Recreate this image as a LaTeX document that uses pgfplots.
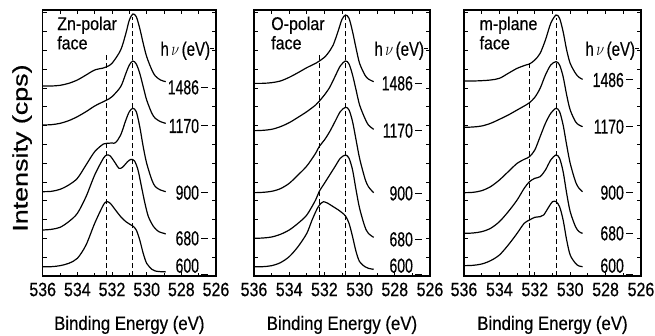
\documentclass[border=0pt]{standalone}
\usepackage{pgfplots}
\pgfplotsset{compat=1.18}
\usepackage{fontspec}
\setmainfont{Liberation Sans}[FakeBold=0.5]
\usepackage{graphicx}
\newcommand{\tl}[1]{\scalebox{1}[1.2]{\fontsize{16}{16}\selectfont #1}}
\newcommand{\rl}[1]{\scalebox{1}[1.45]{\fontsize{14}{14}\selectfont #1}}
\newcommand{\pl}[1]{\scalebox{1}[1.15]{\fontsize{16}{16}\selectfont #1}}
\newcommand{\hv}{\scalebox{1}[1.3]{\fontsize{15}{15}\selectfont h\,$\nu$\,(eV)}}
\newcommand{\dsh}{\hspace{2pt}\rule[6.5pt]{7pt}{1pt}}
\newcommand{\dshl}{\hspace{2pt}\rule[-2pt]{7pt}{1pt}}
\pgfplotsset{
  panel/.style={
    scale only axis, height=266pt,
    x dir=reverse, xmin=526, xmax=536,
    y dir=reverse, ymin=30, ymax=828,
    xtick={526,528,530,532,534,536},
    xticklabels={\tl{526},\tl{528},\tl{530},\tl{532},\tl{534},\tl{536}},
    minor x tick num=1,
    ytick={38.4,94.8,151.2,207.6,264,320.4,376.8,433.2,489.6,546,602.4,658.8,715.2,771.6},
    yticklabels={},
    tick align=inside, major tick length=4pt, minor tick length=3.5pt,
    axis line style={line width=1.3pt},
    every tick/.style={line width=0.9pt, black},
    xticklabel style={inner sep=0pt, yshift=-6.5pt},
    clip=false,
    xlabel={\scalebox{1}[1.15]{\fontsize{16.8}{16.8}\selectfont Binding Energy (eV)}},
    xlabel style={at={(axis description cs:0.5,-0.184)}, anchor=center, inner sep=0pt},
    cycle list={black,line width=1.2pt,no marks,smooth\\},
  },
  dsl/.style={black, line width=0.9pt, dash pattern=on 5pt off 3pt, sharp plot, no marks},
}
\begin{document}
\begin{tikzpicture}
\useasboundingbox (0,0) rectangle (655pt,335pt);
% ---------------- Panel 1 ----------------
\begin{axis}[panel, at={(42.7pt,59pt)}, anchor=south west, width=173.3pt,
  ylabel={\scalebox{1.28}[1]{\fontsize{21}{21}\selectfont Intensity (cps)}},
  ylabel style={at={(axis description cs:-0.119,0.481)}, anchor=center, inner sep=0pt}]
\addplot coordinates {(536,258)(535.5,258)(535,256)(534.5,250)(534,240)(533.5,225)(533,210)(532.5,204)(532.3,200)(532,190)(531.5,150)(531.2,100)(531,60)(530.8,42)(530.6,50)(530.4,85)(530.2,130)(530,170)(529.7,210)(529.5,228)(529.2,240)(528.9,245)};
\addplot coordinates {(536,375)(535.5,374)(535,370)(534.5,362)(534,350)(533.5,335)(533,318)(532.5,305)(532.3,300)(532,290)(531.5,260)(531.2,220)(531,195)(530.8,183)(530.6,192)(530.4,220)(530.2,260)(530,300)(529.7,340)(529.5,355)(529.2,365)(528.9,370)};
\addplot coordinates {(536,575)(535.5,574)(535,568)(534.5,555)(534,535)(533.5,495)(533,455)(532.5,432)(532.3,430)(532,429)(531.8,428)(531.5,405)(531.2,360)(531,335)(530.8,325)(530.6,335)(530.4,380)(530.2,440)(530,490)(529.7,540)(529.5,560)(529.2,570)(528.9,575)};
\addplot coordinates {(536,690)(535.5,688)(535,682)(534.5,665)(534,640)(533.5,590)(533,525)(532.5,475)(532.3,465)(532.1,468)(531.8,490)(531.6,505)(531.4,502)(531.1,485)(530.9,478)(530.7,483)(530.5,510)(530.3,560)(530.1,610)(529.9,650)(529.6,680)(529.3,695)(529,700)(528.9,702)};
\addplot coordinates {(536,800)(535.5,800)(535,797)(534.5,790)(534,775)(533.5,735)(533,670)(532.5,615)(532.3,605)(532.1,610)(531.8,630)(531.5,650)(531.2,665)(531,672)(530.8,678)(530.6,690)(530.4,720)(530.2,760)(530,790)(529.7,808)(529.5,813)(529.2,815)(528.9,815)};
\addplot[dsl] coordinates {(532.3,828)(532.3,160)};
\addplot[dsl] coordinates {(530.8,828)(530.8,50)};
\node[anchor=base west, inner sep=0pt] at (axis cs:535.17,90) {\pl{Zn-polar}};
\node[anchor=base west, inner sep=0pt] at (axis cs:535.17,148) {\pl{face}};
\node[anchor=east, inner sep=0pt] at (axis cs:526.1,152) {\hv\rule[6.5pt]{4pt}{1pt}};
\node[anchor=east, inner sep=0pt] at (axis cs:526.45,262) {\rl{1486}\dsh};
\node[anchor=east, inner sep=0pt] at (axis cs:526.45,378) {\rl{1170}\dsh};
\node[anchor=east, inner sep=0pt] at (axis cs:526.45,578) {\rl{900}\dsh};
\node[anchor=east, inner sep=0pt] at (axis cs:526.45,715) {\rl{680}\dsh};
\node[anchor=base east, inner sep=0pt] at (axis cs:526.45,818) {\rl{600}\dshl};
\end{axis}
% ---------------- Panel 2 ----------------
\begin{axis}[panel, at={(254pt,59pt)}, anchor=south west, width=176pt]
\addplot coordinates {(536,250)(535.5,250)(535,248)(534.5,243)(534,232)(533.5,218)(533,203)(532.5,190)(532.2,180)(532,172)(531.8,160)(531.5,135)(531.2,90)(531,58)(530.8,45)(530.6,55)(530.4,95)(530.2,145)(530,190)(529.7,225)(529.5,237)(529.2,245)};
\addplot coordinates {(536,392)(535.5,391)(535,388)(534.5,380)(534,368)(533.5,352)(533,335)(532.5,315)(532.2,298)(532,285)(531.7,262)(531.4,230)(531.1,198)(530.8,183)(530.6,192)(530.4,225)(530.2,270)(530,315)(529.7,355)(529.5,375)(529.2,388)};
\addplot coordinates {(536,578)(535.5,577)(535,574)(534.5,566)(534,550)(533.5,525)(533,498)(532.5,460)(532.3,440)(532,420)(531.7,395)(531.4,365)(531.1,335)(530.8,322)(530.6,330)(530.4,365)(530.2,420)(530,475)(529.7,535)(529.5,560)(529.2,578)};
\addplot coordinates {(536,715)(535.5,714)(535,711)(534.5,703)(534,690)(533.5,670)(533,645)(532.5,600)(532.3,575)(532,550)(531.7,525)(531.4,500)(531.1,475)(530.8,465)(530.6,475)(530.4,510)(530.2,570)(530,625)(529.7,680)(529.5,700)(529.2,712)};
\addplot coordinates {(536,800)(535.5,800)(535,797)(534.5,788)(534,770)(533.5,740)(533,700)(532.7,660)(532.4,625)(532.2,610)(532.05,605)(531.8,610)(531.5,620)(531.2,630)(531,638)(530.8,648)(530.6,670)(530.4,710)(530.2,755)(530,785)(529.7,800)(529.5,805)(529.2,808)};
\addplot[dsl] coordinates {(532.3,828)(532.3,165)};
\addplot[dsl] coordinates {(530.8,828)(530.8,45)};
\node[anchor=base west, inner sep=0pt] at (axis cs:535.03,90) {\pl{O-polar}};
\node[anchor=base west, inner sep=0pt] at (axis cs:535.03,148) {\pl{face}};
\node[anchor=east, inner sep=0pt] at (axis cs:526.1,152) {\hv\rule[6.5pt]{4pt}{1pt}};
\node[anchor=east, inner sep=0pt] at (axis cs:526.45,250) {\rl{1486}\dsh};
\node[anchor=east, inner sep=0pt] at (axis cs:526.45,392) {\rl{1170}\dsh};
\node[anchor=east, inner sep=0pt] at (axis cs:526.45,580) {\rl{900}\dsh};
\node[anchor=east, inner sep=0pt] at (axis cs:526.45,718) {\rl{680}\dsh};
\node[anchor=base east, inner sep=0pt] at (axis cs:526.45,818) {\rl{600}\dshl};
\end{axis}
% ---------------- Panel 3 ----------------
\begin{axis}[panel, at={(464pt,59pt)}, anchor=south west, width=177pt]
\addplot coordinates {(536,243)(535.5,243)(535,242)(534.5,240)(534,235)(533.5,220)(533,205)(532.5,195)(532.3,192)(532,180)(531.7,160)(531.4,120)(531.1,70)(530.8,45)(530.6,55)(530.4,95)(530.2,150)(530,190)(529.7,220)(529.5,232)(529.3,238)};
\addplot coordinates {(536,382)(535.5,381)(535,378)(534.5,370)(534,358)(533.5,345)(533,330)(532.5,315)(532.3,308)(532,292)(531.7,265)(531.4,225)(531.1,195)(530.8,185)(530.6,195)(530.4,230)(530.2,285)(530,330)(529.7,365)(529.5,375)(529.3,380)};
\addplot coordinates {(536,578)(535.5,577)(535,572)(534.5,560)(534,540)(533.5,515)(533,490)(532.6,478)(532.3,470)(532,450)(531.7,410)(531.4,370)(531.1,340)(530.8,325)(530.6,335)(530.4,375)(530.2,435)(530,490)(529.7,545)(529.5,565)(529.3,575)};
\addplot coordinates {(536,700)(535.5,699)(535,695)(534.5,685)(534,665)(533.5,635)(533,600)(532.6,565)(532.3,545)(532,535)(531.7,530)(531.4,510)(531.1,480)(530.8,465)(530.6,475)(530.4,515)(530.2,580)(530,635)(529.7,680)(529.5,695)(529.3,700)};
\addplot coordinates {(536,797)(535.5,796)(535,792)(534.5,782)(534,765)(533.5,735)(533,700)(532.6,670)(532.3,660)(532,652)(531.7,650)(531.5,645)(531.2,620)(531,605)(530.8,605)(530.6,620)(530.4,660)(530.2,720)(530,765)(529.7,790)(529.5,798)(529.3,800)};
\addplot[dsl] coordinates {(532.3,828)(532.3,190)};
\addplot[dsl] coordinates {(530.8,828)(530.8,55)};
\node[anchor=base west, inner sep=0pt] at (axis cs:535.13,90) {\pl{m-plane}};
\node[anchor=base west, inner sep=0pt] at (axis cs:535.13,148) {\pl{face}};
\node[anchor=east, inner sep=0pt] at (axis cs:526.1,152) {\hv\rule[6.5pt]{4pt}{1pt}};
\node[anchor=east, inner sep=0pt] at (axis cs:526.45,240) {\rl{1486}\dsh};
\node[anchor=east, inner sep=0pt] at (axis cs:526.45,380) {\rl{1170}\dsh};
\node[anchor=east, inner sep=0pt] at (axis cs:526.45,578) {\rl{900}\dsh};
\node[anchor=east, inner sep=0pt] at (axis cs:526.45,700) {\rl{680}\dsh};
\node[anchor=base east, inner sep=0pt] at (axis cs:526.45,818) {\rl{600}\dshl};
\end{axis}
\end{tikzpicture}
\end{document}
